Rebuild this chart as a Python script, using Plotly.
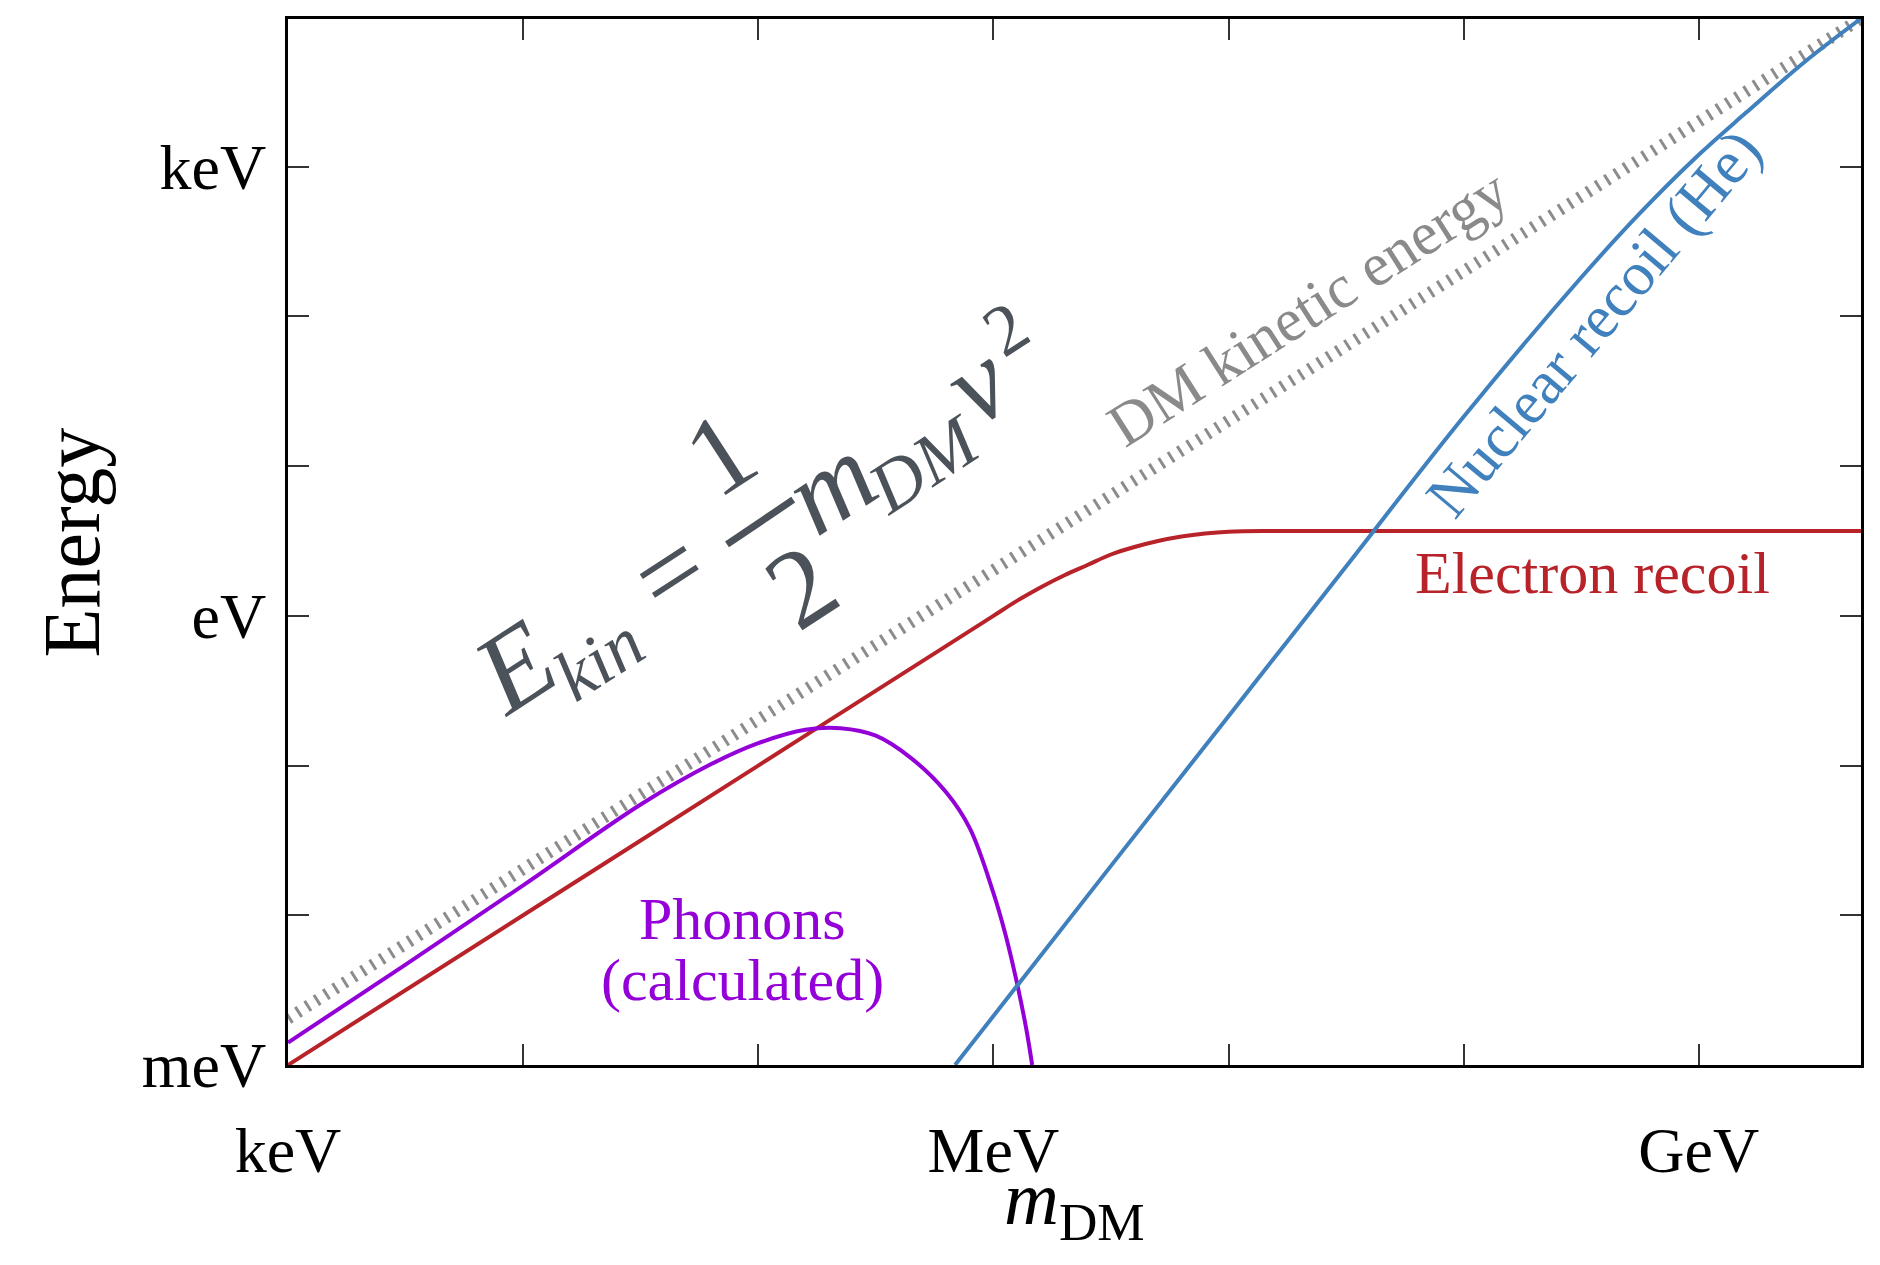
import numpy as np
import plotly.graph_objects as go

# ---- data (log10 of eV) ----
ke_logm = [3.0, 9.69]
ke_logE = [-2.69, 3.99]

er_logm = [3.0, 4.0, 5.0, 5.8, 6.0, 6.1, 6.2, 6.3, 6.4, 6.5, 6.6, 6.7, 6.8, 6.9, 7.0, 7.2, 9.69]
er_logE = [-3.0, -2.0, -1.0, -0.2, 0.0, 0.1, 0.19, 0.27, 0.34, 0.41, 0.46, 0.50, 0.53, 0.55, 0.562, 0.567, 0.567]

ph_logm = [3.0, 3.5, 4.0, 4.5, 4.8, 5.0, 5.2, 5.35, 5.5, 5.65, 5.8, 5.9, 6.0, 6.05, 6.1, 6.14, 6.165]
ph_logE = [-2.85, -2.33, -1.80, -1.26, -0.99, -0.85, -0.76, -0.75, -0.80, -0.95, -1.18, -1.42, -1.85, -2.12, -2.45, -2.76, -3.0]

nr_logm = [5.837, 6.5, 7.0, 7.5, 8.0, 8.5, 8.75, 9.0, 9.2, 9.45, 9.69]
nr_logE = [-3.0, -1.67, -0.67, 0.33, 1.33, 2.26, 2.69, 3.08, 3.36, 3.70, 3.99]

x_tick_logs = [3, 4, 5, 6, 7, 8, 9]
x_tick_text = ["keV", "", "", "MeV", "", "", "GeV"]
y_tick_logs = [-3, -2, -1, 0, 1, 2, 3]
y_tick_text = ["meV", "", "", "eV", "", "", "keV"]

def ev(a):
    return [10.0 ** v for v in a]

FONT = "Liberation Serif"
PAGE_OFF = 8                      # default body margin of the html page
W, H = 1880 - 2 * PAGE_OFF, 1265 - 2 * PAGE_OFF
L, R, T, B = 288, 1864, 17, 1065  # plot area in page pixels

def pp(X, Y):
    return (X - L) / (R - L), (B - Y) / (B - T)

fig = go.Figure()
fig.add_trace(go.Scatter(x=ev(ke_logm), y=ev(ke_logE), mode="lines",
                         line=dict(color="#8c8c8c", width=12, dash="3px,8px"),
                         showlegend=False))
fig.add_trace(go.Scatter(x=ev(er_logm), y=ev(er_logE), mode="lines", line_shape="spline",
                         line=dict(color="#b8232a", width=4), showlegend=False))
fig.add_trace(go.Scatter(x=ev(ph_logm), y=ev(ph_logE), mode="lines", line_shape="spline",
                         line=dict(color="#9400d8", width=4), showlegend=False))
fig.add_trace(go.Scatter(x=ev(nr_logm), y=ev(nr_logE), mode="lines", line_shape="spline",
                         line=dict(color="#3f80bd", width=4), showlegend=False))

annos = []
def add(text, X, Y, size, color, angle=0, up=0.0):
    # 'up' shifts the box perpendicular to the (rotated) baseline, in px
    a = np.deg2rad(-angle)
    X = X - up * np.sin(a)
    Y = Y - up * np.cos(a)
    px, py = pp(X, Y)
    annos.append(dict(text=text, x=px, y=py, xref="paper", yref="paper",
                      xanchor="center", yanchor="middle", showarrow=False,
                      textangle=angle, font=dict(family=FONT, size=size, color=color)))

# curve labels
add("DM kinetic energy", 1310, 306, 61, "#8a8a8a", -32.5)
add("Nuclear recoil (He)", 1596, 322, 62, "#3f80bd", -50)
add("Electron recoil", 1595, 572, 60, "#b8232a")
add("Phonons", 743, 919, 60, "#9400d8")
add("(calculated)", 743, 980, 60, "#9400d8")

# equation  E_kin = (1/2) m_DM v^2
EQ = "#4b5259"
ang = -33
add("<i>E</i>", 514, 666, 112, EQ, ang)
add("<i>kin</i>", 600, 658, 72, EQ, ang)
add("=", 675, 578, 112, EQ, ang, up=10)
add("1", 721, 452, 112, EQ, ang)
add("2", 802, 585, 112, EQ, ang)
add("<i>m</i>", 837, 493, 112, EQ, ang, up=12)
add("<i>DM</i>", 926, 463, 72, EQ, ang)
add("<i>v</i>", 985, 392, 112, EQ, ang, up=12)
add("2", 1007, 328, 72, EQ, ang)

# axis titles
add("Energy", 72, 541, 80, "black", -90)
add("<i>m</i><sub>DM</sub>", 1076, 1204, 76, "black")

# fraction bar
cx, cy, half = 761, 521, 40
th = np.deg2rad(34)
x0, y0 = pp(cx - half * np.cos(th), cy + half * np.sin(th))
x1, y1 = pp(cx + half * np.cos(th), cy - half * np.sin(th))
fig.add_shape(type="line", xref="paper", yref="paper", x0=x0, y0=y0, x1=x1, y1=y1,
              line=dict(color=EQ, width=7))

axis_common = dict(type="log", showgrid=False, zeroline=False, showline=True,
                   linecolor="black", linewidth=3, mirror="ticks",
                   ticks="inside", ticklen=21, tickwidth=2, tickcolor="#333",
                   tickfont=dict(family=FONT, size=64, color="black"))

fig.update_layout(
    width=W, height=H,
    margin=dict(l=L - PAGE_OFF, r=W + PAGE_OFF - R, t=T - PAGE_OFF, b=H + PAGE_OFF - B),
    paper_bgcolor="white", plot_bgcolor="white",
    xaxis=dict(range=[3, 9.69], tickvals=ev(x_tick_logs), ticktext=x_tick_text,
               ticklabelstandoff=27, **axis_common),
    yaxis=dict(range=[-3, 3.987], tickvals=ev(y_tick_logs), ticktext=y_tick_text,
               ticklabelstandoff=6, **axis_common),
    annotations=annos,
)

fig.write_html("out.html")
